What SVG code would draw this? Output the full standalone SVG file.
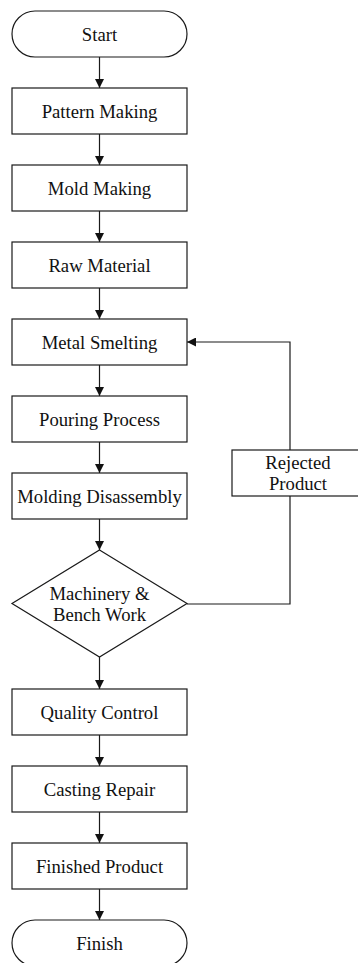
<svg xmlns="http://www.w3.org/2000/svg" width="358" height="963" viewBox="0 0 358 963">
  <style>
    .shape { fill: #ffffff; stroke: #1a1a1a; stroke-width: 1.2; }
    .label { font-family: "Liberation Serif", "Times New Roman", serif; font-size: 18.7px; fill: #111111; text-anchor: middle; }
    .edge { fill: none; stroke: #1a1a1a; stroke-width: 1.2; }
  </style>
  <defs>
    <marker id="arrow" viewBox="0 0 10 10" refX="10" refY="5" markerWidth="9" markerHeight="9" markerUnits="userSpaceOnUse" orient="auto">
      <path d="M0,0 L10,5 L0,10 Z" fill="#111111"/>
    </marker>
  </defs>
  <rect width="358" height="963" fill="#ffffff"/>

  <g id="connectors">
    <line class="edge" x1="99.5" y1="57" x2="99.5" y2="88" marker-end="url(#arrow)"/>
    <line class="edge" x1="99.5" y1="134" x2="99.5" y2="165" marker-end="url(#arrow)"/>
    <line class="edge" x1="99.5" y1="211" x2="99.5" y2="242" marker-end="url(#arrow)"/>
    <line class="edge" x1="99.5" y1="288" x2="99.5" y2="319" marker-end="url(#arrow)"/>
    <line class="edge" x1="99.5" y1="365" x2="99.5" y2="396" marker-end="url(#arrow)"/>
    <line class="edge" x1="99.5" y1="442" x2="99.5" y2="473" marker-end="url(#arrow)"/>
    <line class="edge" x1="99.5" y1="519" x2="99.5" y2="550" marker-end="url(#arrow)"/>
    <line class="edge" x1="99.5" y1="657" x2="99.5" y2="689" marker-end="url(#arrow)"/>
    <line class="edge" x1="99.5" y1="735" x2="99.5" y2="766" marker-end="url(#arrow)"/>
    <line class="edge" x1="99.5" y1="812" x2="99.5" y2="843" marker-end="url(#arrow)"/>
    <line class="edge" x1="99.5" y1="889" x2="99.5" y2="920" marker-end="url(#arrow)"/>
    <!-- rework loop back to smelting -->
    <polyline class="edge" points="187,604 290,604 290,496"/>
    <polyline class="edge" points="290,450 290,342 187,342" marker-end="url(#arrow)"/>
  </g>

  <g id="start">
    <rect class="shape" x="12" y="11" width="175" height="46" rx="23" ry="23"/>
    <text class="label" x="99.5" y="40.5">Start</text>
  </g>
  <g id="pattern-making">
    <rect class="shape" x="12" y="88" width="175" height="46"/>
    <text class="label" x="99.5" y="117.5">Pattern Making</text>
  </g>
  <g id="mold-making">
    <rect class="shape" x="12" y="165" width="175" height="46"/>
    <text class="label" x="99.5" y="194.5">Mold Making</text>
  </g>
  <g id="raw-material">
    <rect class="shape" x="12" y="242" width="175" height="46"/>
    <text class="label" x="99.5" y="271.5">Raw Material</text>
  </g>
  <g id="metal-smelting">
    <rect class="shape" x="12" y="319" width="175" height="46"/>
    <text class="label" x="99.5" y="348.5">Metal Smelting</text>
  </g>
  <g id="pouring-process">
    <rect class="shape" x="12" y="396" width="175" height="46"/>
    <text class="label" x="99.5" y="425.5">Pouring Process</text>
  </g>
  <g id="molding-disassembly">
    <rect class="shape" x="12" y="473" width="175" height="46"/>
    <text class="label" x="99.5" y="502.5">Molding Disassembly</text>
  </g>
  <g id="machinery-bench-work">
    <polygon class="shape" points="99.5,550 187,603.5 99.5,657 12,603.5"/>
    <text class="label" x="99.5" y="599.5">Machinery &amp;</text>
    <text class="label" x="99.5" y="621">Bench Work</text>
  </g>
  <g id="rejected-product">
    <rect class="shape" x="232" y="450" width="132" height="46"/>
    <text class="label" x="298" y="468.5">Rejected</text>
    <text class="label" x="298" y="490">Product</text>
  </g>
  <g id="quality-control">
    <rect class="shape" x="12" y="689" width="175" height="46"/>
    <text class="label" x="99.5" y="718.5">Quality Control</text>
  </g>
  <g id="casting-repair">
    <rect class="shape" x="12" y="766" width="175" height="46"/>
    <text class="label" x="99.5" y="795.5">Casting Repair</text>
  </g>
  <g id="finished-product">
    <rect class="shape" x="12" y="843" width="175" height="46"/>
    <text class="label" x="99.5" y="872.5">Finished Product</text>
  </g>
  <g id="finish">
    <rect class="shape" x="12" y="920" width="175" height="46" rx="23" ry="23"/>
    <text class="label" x="99.5" y="949.5">Finish</text>
  </g>
</svg>
